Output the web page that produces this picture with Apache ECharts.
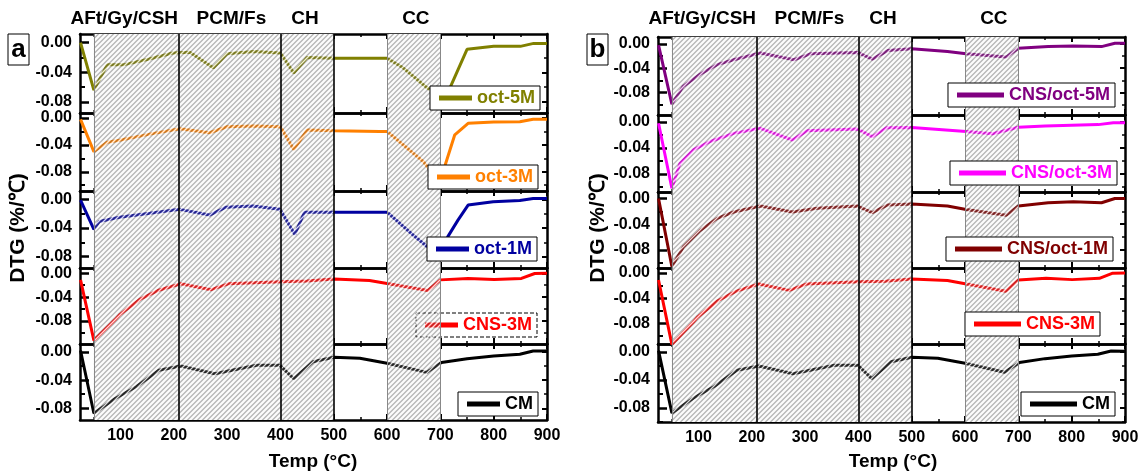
<!DOCTYPE html>
<html><head><meta charset="utf-8">
<script src="https://cdn.jsdelivr.net/npm/echarts@6/dist/echarts.min.js"></script>
<style>html,body{margin:0;padding:0;background:#fff}#c{width:1140px;height:474px}</style>
</head><body><div id="c"></div>
<script>
// ---------------- data ----------------
const xMajor = [100, 200, 300, 400, 500, 600, 700, 800, 900];
const xMinor = [50, 150, 250, 350, 450, 550, 650, 750, 850];
const yMajor = [0, -0.04, -0.08];
const yMinor = [-0.02, -0.06, -0.10];
const regionLabels = ['AFt/Gy/CSH', 'PCM/Fs', 'CH', 'CC'];
const regionLabelT = [107, 308, 446, 654];
const hatchedRanges = [[50, 500], [600, 700]];
const blackDividers = [210, 400, 500];
const greyDividers = [50, 600, 700];

const oct5M = [[25,0.000],[50,-0.064],[75,-0.030],[105,-0.030],[154,-0.022],[198,-0.014],[230,-0.013],[274,-0.034],[300,-0.015],[350,-0.012],[400,-0.014],[425,-0.041],[450,-0.020],[500,-0.021],[600,-0.021],[630,-0.034],[650,-0.046],[675,-0.061],[700,-0.072],[718,-0.061],[750,-0.009],[800,-0.005],[850,-0.005],[875,-0.001],[900,-0.001]];
const oct3M = [[25,-0.002],[50,-0.050],[75,-0.036],[98,-0.033],[155,-0.024],[211,-0.016],[267,-0.022],[300,-0.013],[350,-0.012],[400,-0.013],[425,-0.047],[450,-0.018],[500,-0.019],[586,-0.020],[600,-0.020],[668,-0.065],[698,-0.095],[709,-0.070],[727,-0.025],[752,-0.008],[800,-0.006],[849,-0.0055],[874,-0.002],[900,-0.002]];
const oct1M = [[25,-0.001],[50,-0.042],[60,-0.031],[98,-0.025],[155,-0.0195],[211,-0.014],[267,-0.022],[298,-0.011],[348,-0.0093],[399,-0.014],[427,-0.049],[445,-0.018],[500,-0.018],[600,-0.018],[649,-0.050],[695,-0.078],[714,-0.052],[733,-0.029],[752,-0.008],[799,-0.0033],[849,-0.0015],[874,0.001],[900,0.001]];
const cns3M = [[25,-0.011],[50,-0.113],[90,-0.078],[98,-0.070],[136,-0.044],[170,-0.029],[213,-0.0175],[270,-0.0275],[302,-0.0176],[400,-0.014],[450,-0.013],[500,-0.0095],[567,-0.012],[600,-0.017],[676,-0.029],[700,-0.011],[752,-0.0085],[801,-0.0105],[852,-0.0085],[877,-0.0003],[900,0.000]];
const cm = [[25,0.002],[50,-0.087],[90,-0.066],[130,-0.049],[172,-0.026],[213,-0.020],[277,-0.031],[355,-0.019],[399,-0.019],[425,-0.038],[461,-0.014],[500,-0.0075],[549,-0.009],[600,-0.016],[674,-0.029],[702,-0.015],[750,-0.0095],[800,-0.0058],[849,-0.0033],[874,0.0013],[900,0.0012]];
const cnsOct5M = [[25,-0.002],[50,-0.099],[71,-0.070],[103,-0.050],[135,-0.034],[166,-0.026],[216,-0.015],[279,-0.026],[310,-0.0163],[398,-0.014],[426,-0.025],[455,-0.011],[500,-0.008],[567,-0.0125],[602,-0.0163],[677,-0.0217],[700,-0.007],[756,-0.0044],[803,-0.0033],[856,-0.0044],[881,0.001],[900,0.001]];
const cnsOct3M = [[25,-0.002],[50,-0.102],[65,-0.064],[90,-0.043],[122,-0.030],[166,-0.0175],[216,-0.0097],[276,-0.0277],[304,-0.0134],[398,-0.0108],[426,-0.0226],[453,-0.0087],[500,-0.0085],[602,-0.0146],[652,-0.018],[700,-0.008],[750,-0.006],[800,-0.005],[850,-0.004],[878,-0.001],[900,-0.001]];
const cnsOct1M = [[25,0.000],[50,-0.106],[72,-0.075],[103,-0.050],[135,-0.031],[166,-0.021],[216,-0.0117],[276,-0.021],[323,-0.0153],[398,-0.0117],[426,-0.022],[455,-0.010],[500,-0.0085],[567,-0.0117],[602,-0.017],[677,-0.026],[700,-0.0117],[756,-0.0066],[803,-0.005],[856,-0.0066],[881,0.000],[900,0.000]];

// ---------------- layout ----------------
const F = '"Liberation Sans", Arial, Helvetica, sans-serif';
const xMin = 24, xMax = 900;
const panels = [
  { letter: 'a', left: 80, width: 467, tops: [34,113,191,268,344,420], iconW: 33,
    box: [8, 34, 21, 31], yTitleX: 18, xTitleX: 313,
    rows: [
      { name: 'oct-5M', data: oct5M, color: '#808000', range: [-0.095, 0.0117], lg: { right: 600, top: 86 } },
      { name: 'oct-3M', data: oct3M, color: '#ff8000', range: [-0.1086, 0.0074], lg: { right: 602, top: 165 } },
      { name: 'oct-1M', data: oct1M, color: '#0000a0', range: [-0.0958, 0.0116], lg: { right: 603, top: 237 } },
      { name: 'CNS-3M', data: cns3M, color: '#ff0000', range: [-0.119, 0.009], lg: { right: 603, top: 313, dashed: true } },
      { name: 'CM', data: cm, color: '#000000', range: [-0.0966, 0.0113], lg: { right: 602, top: 392 } }
    ] },
  { letter: 'b', left: 658, width: 467, tops: [37,115,192,268,344,422], iconW: 47,
    box: [587, 34, 21, 31], yTitleX: 598, xTitleX: 893,
    rows: [
      { name: 'CNS/oct-5M', data: cnsOct5M, color: '#800080', range: [-0.117, 0.0114], lg: { right: 25, top: 83 } },
      { name: 'CNS/oct-3M', data: cnsOct3M, color: '#ff00ff', range: [-0.1077, 0.0108], lg: { right: 23, top: 161 } },
      { name: 'CNS/oct-1M', data: cnsOct1M, color: '#800000', range: [-0.1085, 0.0102], lg: { right: 27, top: 237 } },
      { name: 'CNS-3M', data: cns3M, color: '#ff0000', range: [-0.1124, 0.0079], lg: { right: 40, top: 312 } },
      { name: 'CM', data: cm, color: '#000000', range: [-0.100, 0.0114], lg: { right: 25, top: 392 } }
    ] }
];

function makeHatch() {
  const s = 5, c = document.createElement('canvas');
  c.width = s; c.height = s;
  const ctx = c.getContext('2d');
  for (let k = -2; k <= 2; k++) {
    ctx.strokeStyle = 'rgba(255,255,255,0.85)'; ctx.lineWidth = 1.4;
    ctx.beginPath(); ctx.moveTo(k * s - 1, s + 1); ctx.lineTo(k * s + s + 1, -1); ctx.stroke();
    ctx.strokeStyle = 'rgba(110,110,110,0.7)'; ctx.lineWidth = 1;
    const o = 2.5;
    ctx.beginPath(); ctx.moveTo(k * s + o - 1, s + 1); ctx.lineTo(k * s + o + s + 1, -1); ctx.stroke();
  }
  return c;
}
const hatch = makeHatch();

function xAx(g, pos, vals, len, w, showLabel, showLine) {
  return {
    type: 'value', gridIndex: g, position: pos, min: xMin, max: xMax, z: 0,
    axisLine: { show: showLine, onZero: false, lineStyle: { color: '#000', width: 2.5 } },
    axisTick: { show: true, inside: true, length: len, customValues: vals, lineStyle: { color: '#000', width: w } },
    axisLabel: { show: showLabel, customValues: xMajor, margin: 8, color: '#000', fontFamily: F, fontWeight: 'bold', fontSize: 16 },
    splitLine: { show: false }
  };
}
function yAx(g, pos, lo, hi, vals, len, w, showLabel, showLine) {
  const v = vals.filter(t => t >= lo && t <= hi);
  return {
    type: 'value', gridIndex: g, position: pos, min: lo, max: hi, z: 0,
    axisLine: { show: showLine, onZero: false, lineStyle: { color: '#000', width: 2.5 } },
    axisTick: { show: true, inside: true, length: len, customValues: v, lineStyle: { color: '#000', width: w } },
    axisLabel: { show: showLabel, customValues: yMajor, margin: 8, color: '#000', fontFamily: F, fontWeight: 'bold', fontSize: 16,
      formatter: t => t.toFixed(2) },
    splitLine: { show: false }
  };
}

const grids = [], xAxes = [], yAxes = [], series = [], legends = [];
const firstX = [];
panels.forEach((P, p) => {
  P.rows.forEach((R, i) => {
    const g = grids.length;
    grids.push({ left: P.left, width: P.width, top: P.tops[i], height: P.tops[i + 1] - P.tops[i], containLabel: false, outerBoundsMode: 'none' });
    const xi = xAxes.length;
    if (i === 0) firstX.push(xi);
    xAxes.push(xAx(g, 'bottom', xMajor, 6, 2, i === 4, true));
    xAxes.push(xAx(g, 'bottom', xMinor, 3, 1.5, false, false));
    xAxes.push(xAx(g, 'top', xMajor, 5, 2, false, true));
    xAxes.push(xAx(g, 'top', xMinor, 3, 1.5, false, false));
    const yi = yAxes.length;
    const [lo, hi] = R.range;
    yAxes.push(yAx(g, 'left', lo, hi, yMajor, 9, 2.5, true, true));
    yAxes.push(yAx(g, 'left', lo, hi, yMinor, 5, 2, false, false));
    yAxes.push(yAx(g, 'right', lo, hi, yMajor, 5, 2, false, true));
    yAxes.push(yAx(g, 'right', lo, hi, yMinor, 3, 1.5, false, false));
    const areas = hatchedRanges.map(r => [{ xAxis: r[0] }, { xAxis: r[1] }]);
    series.push({ type: 'line', xAxisIndex: xi, yAxisIndex: yi, data: [], z: 1, silent: true,
      markArea: { z: 1, silent: true, label: { show: false }, itemStyle: { color: '#eeeeee' }, data: areas } });
    series.push({ type: 'line', name: R.name, xAxisIndex: xi, yAxisIndex: yi, data: R.data, z: 2,
      symbol: 'none', showSymbol: false, animation: false,
      lineStyle: { color: R.color, width: 3 }, itemStyle: { color: R.color } });
    series.push({ type: 'line', xAxisIndex: xi, yAxisIndex: yi, data: [], z: 8, silent: true,
      markArea: { z: 8, silent: true, label: { show: false }, itemStyle: { color: { image: hatch, repeat: 'repeat' } }, data: areas },
      markLine: { z: 9, silent: true, symbol: ['none', 'none'], label: { show: false },
        data: blackDividers.map(v => ({ xAxis: v, lineStyle: { color: '#000', width: 1.6, type: 'solid' } }))
          .concat(greyDividers.map(v => ({ xAxis: v, lineStyle: { color: '#888', width: 1, type: 'solid' } }))) } });
    const L = R.lg;
    legends.push({
      z: L.dashed ? 4 : 12, right: L.right, top: L.top, data: [{ name: R.name, icon: 'rect' }], selectedMode: false,
      itemWidth: P.iconW, itemHeight: 5, padding: [3, 5, 3, 9],
      backgroundColor: L.dashed ? 'rgba(255,255,255,0)' : '#fff',
      borderColor: '#000', borderWidth: 1, borderType: L.dashed ? 'dashed' : 'solid',
      itemStyle: { color: R.color, borderWidth: 0 },
      textStyle: { color: R.color, fontSize: 18, fontWeight: 'bold', fontFamily: F }
    });
  });
});

const chart = echarts.init(document.getElementById('c'), null, { renderer: 'canvas' });
chart.setOption({
  animation: false, backgroundColor: '#fff',
  grid: grids, xAxis: xAxes, yAxis: yAxes, series: series, legend: legends
});

const graphics = [];
panels.forEach((P, p) => {
  regionLabels.forEach((t, k) => {
    const px = chart.convertToPixel({ xAxisIndex: firstX[p] }, regionLabelT[k]);
    graphics.push({ type: 'text', x: px, y: 19, z: 20,
      style: { text: t, font: 'bold 19px ' + F, fill: '#000', textAlign: 'center', textVerticalAlign: 'middle' } });
  });
  graphics.push({ type: 'rect', z: 20, shape: { x: P.box[0], y: P.box[1], width: P.box[2], height: P.box[3] },
    style: { fill: '#fff', stroke: '#000', lineWidth: 1 } });
  graphics.push({ type: 'text', z: 21, x: P.box[0] + P.box[2] / 2, y: P.box[1] + P.box[3] / 2,
    style: { text: P.letter, font: 'bold 26px ' + F, fill: '#000', textAlign: 'center', textVerticalAlign: 'middle' } });
  graphics.push({ type: 'text', z: 20, x: P.yTitleX, y: 228, rotation: Math.PI / 2,
    style: { text: 'DTG (%/℃)', font: 'bold 21px ' + F, fill: '#000', textAlign: 'center', textVerticalAlign: 'middle' } });
  graphics.push({ type: 'text', z: 20, x: P.xTitleX, y: 462,
    style: { text: 'Temp (°C)', font: 'bold 19px ' + F, fill: '#000', textAlign: 'center', textVerticalAlign: 'middle' } });
});
chart.setOption({ graphic: graphics });
</script></body></html>
